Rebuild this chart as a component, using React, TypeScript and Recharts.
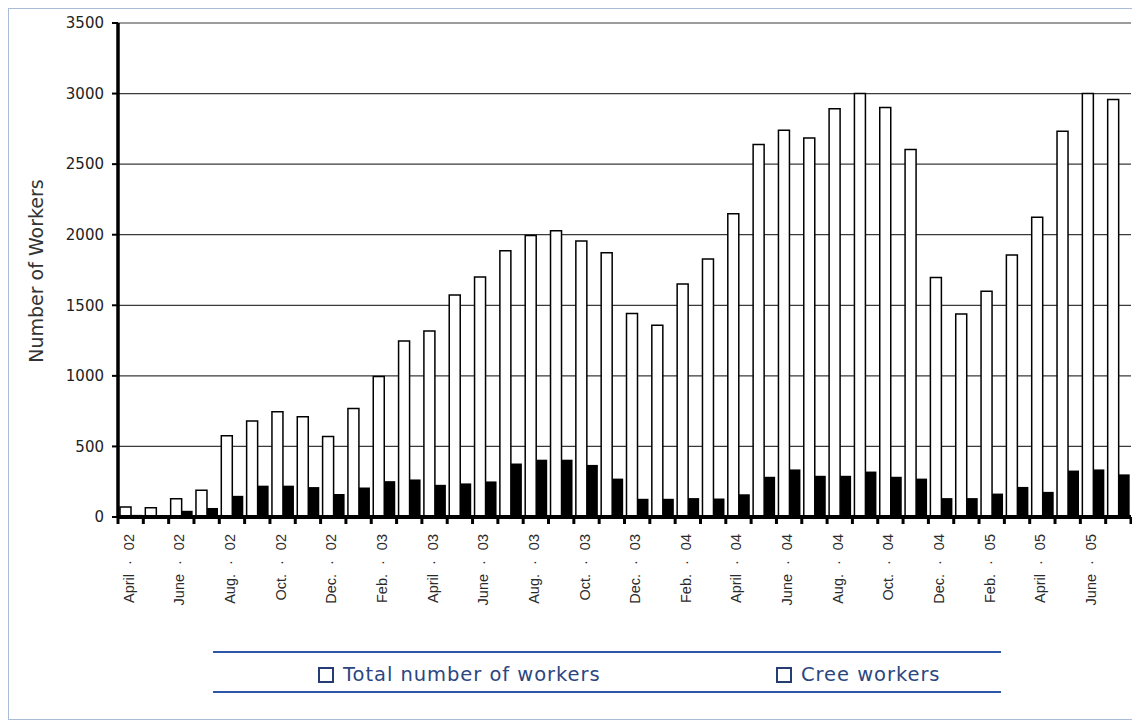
// Monthly workforce on the project: total workers vs Cree workers, April 2002 - July 2005
import { BarChart, Bar, XAxis, YAxis, CartesianGrid } from 'recharts'

const MONTHS = [
  'April · 02', 'May · 02', 'June · 02', 'July · 02', 'Aug. · 02', 'Sept. · 02', 'Oct. · 02', 'Nov. · 02', 'Dec. · 02',
  'Jan. · 03', 'Feb. · 03', 'March · 03', 'April · 03', 'May · 03', 'June · 03', 'July · 03', 'Aug. · 03', 'Sept. · 03',
  'Oct. · 03', 'Nov. · 03', 'Dec. · 03',
  'Jan. · 04', 'Feb. · 04', 'March · 04', 'April · 04', 'May · 04', 'June · 04', 'July · 04', 'Aug. · 04', 'Sept. · 04',
  'Oct. · 04', 'Nov. · 04', 'Dec. · 04',
  'Jan. · 05', 'Feb. · 05', 'March · 05', 'April · 05', 'May · 05', 'June · 05', 'July · 05',
]

const TOTAL_WORKERS = [
  70, 65, 130, 190, 575, 680, 745, 710, 570, 768,
  995, 1247, 1318, 1573, 1701, 1886, 1995, 2028, 1955, 1872,
  1441, 1358, 1650, 1828, 2149, 2639, 2741, 2686, 2892, 3000,
  2901, 2604, 1696, 1439, 1599, 1856, 2123, 2733, 3000, 2958,
]

const CREE_WORKERS = [
  15, 10, 44, 64, 150, 222, 222, 212, 163, 209,
  254, 266, 228, 238, 252, 379, 406, 406, 369, 272,
  129, 129, 134, 131, 161, 285, 337, 292, 292, 322,
  285, 272, 134, 134, 166, 213, 178, 329, 337, 302,
]

const Y_TICKS = [0, 500, 1000, 1500, 2000, 2500, 3000, 3500]

const data = MONTHS.map((month, i) => ({
  month,
  total: TOTAL_WORKERS[i],
  cree: CREE_WORKERS[i],
}))

const W = 1126
const H = 710
const LEFT = 109
const RIGHT = 4
const BAND = (W - LEFT - RIGHT) / MONTHS.length

const BLUE = '#2f56a6'
const LEGEND_TEXT = '#2c4680'

function MonthTick(props: any) {
  const { x, y, index } = props
  const left = x - BAND / 2
  const [name, year] = MONTHS[index].split('·').map((s) => s.trim())
  return (
    <g>
      <line x1={left} y1={y} x2={left} y2={y + 7} stroke="#000" strokeWidth={3} />
      {index === MONTHS.length - 1 && (
        <line x1={x + BAND / 2} y1={y} x2={x + BAND / 2} y2={y + 7} stroke="#000" strokeWidth={3} />
      )}
      {index % 2 === 0 && (
        <text
          x={0}
          y={0}
          transform={`translate(${x - 2}, ${y + 17}) rotate(-90)`}
          textAnchor="end"
          dominantBaseline="central"
          fontSize={14.5}
          fill="#2a2a2a"
          fontFamily="'Liberation Sans', Arial, sans-serif"
        >
          <tspan>{name}</tspan>
          <tspan dx={9}>·</tspan>
          <tspan dx={10}>{year}</tspan>
        </text>
      )}
    </g>
  )
}

function LegendItem({ label, left }: { label: string; left: number }) {
  return (
    <div style={{ position: 'absolute', left, top: 654, display: 'flex', alignItems: 'center' }}>
      <div style={{ width: 12, height: 12, border: '2px solid #253c74', marginRight: 9 }} />
      <span
        style={{
          fontFamily: "'DejaVu Sans', sans-serif",
          fontSize: 19.5,
          letterSpacing: 0.95,
          color: LEGEND_TEXT,
        }}
      >
        {label}
      </span>
    </div>
  )
}

export default function App() {
  return (
    <div
      style={{
        position: 'relative',
        width: W + 2,
        height: H + 2,
        border: '1px solid #a9bcd8',
        boxSizing: 'border-box',
        background: '#fff',
      }}
    >
      <BarChart
        width={W}
        height={H}
        data={data}
        margin={{ top: 14, right: RIGHT, left: 0, bottom: 102 }}
        barCategoryGap={2}
        barGap={0}
        style={{ fontFamily: "'DejaVu Sans', Verdana, sans-serif" }}
      >
        <CartesianGrid vertical={false} stroke="#3a3a3a" strokeWidth={1.2} />
        <YAxis
          width={LEFT}
          domain={[0, 3500]}
          ticks={Y_TICKS}
          interval={0}
          axisLine={{ stroke: '#000', strokeWidth: 3.5 }}
          tickLine={{ stroke: '#000', strokeWidth: 2 }}
          tickSize={6}
          tickMargin={8}
          tick={{ fontSize: 15, fill: '#222' }}
          label={{
            content: () => (
              <text
                transform="translate(27, 262) rotate(-90)"
                textAnchor="middle"
                dominantBaseline="central"
                fontSize={19}
                fill="#333"
              >
                Number of Workers
              </text>
            ),
          }}
        />
        <XAxis
          dataKey="month"
          height={100}
          interval={0}
          axisLine={{ stroke: '#000', strokeWidth: 4 }}
          tickLine={false}
          tickSize={0}
          tickMargin={0}
          tick={<MonthTick />}
        />
        <Bar dataKey="total" name="Total number of workers" fill="#fff" stroke="#000" strokeWidth={1.5} isAnimationActive={false} />
        <Bar dataKey="cree" name="Cree workers" fill="#000" isAnimationActive={false} />
      </BarChart>

      {/* legend between two rules */}
      <div style={{ position: 'absolute', left: 204, top: 642, width: 788, height: 2, background: BLUE }} />
      <div style={{ position: 'absolute', left: 204, top: 682, width: 788, height: 2, background: BLUE }} />
      <LegendItem label="Total number of workers" left={309} />
      <LegendItem label="Cree workers" left={767} />
    </div>
  )
}
